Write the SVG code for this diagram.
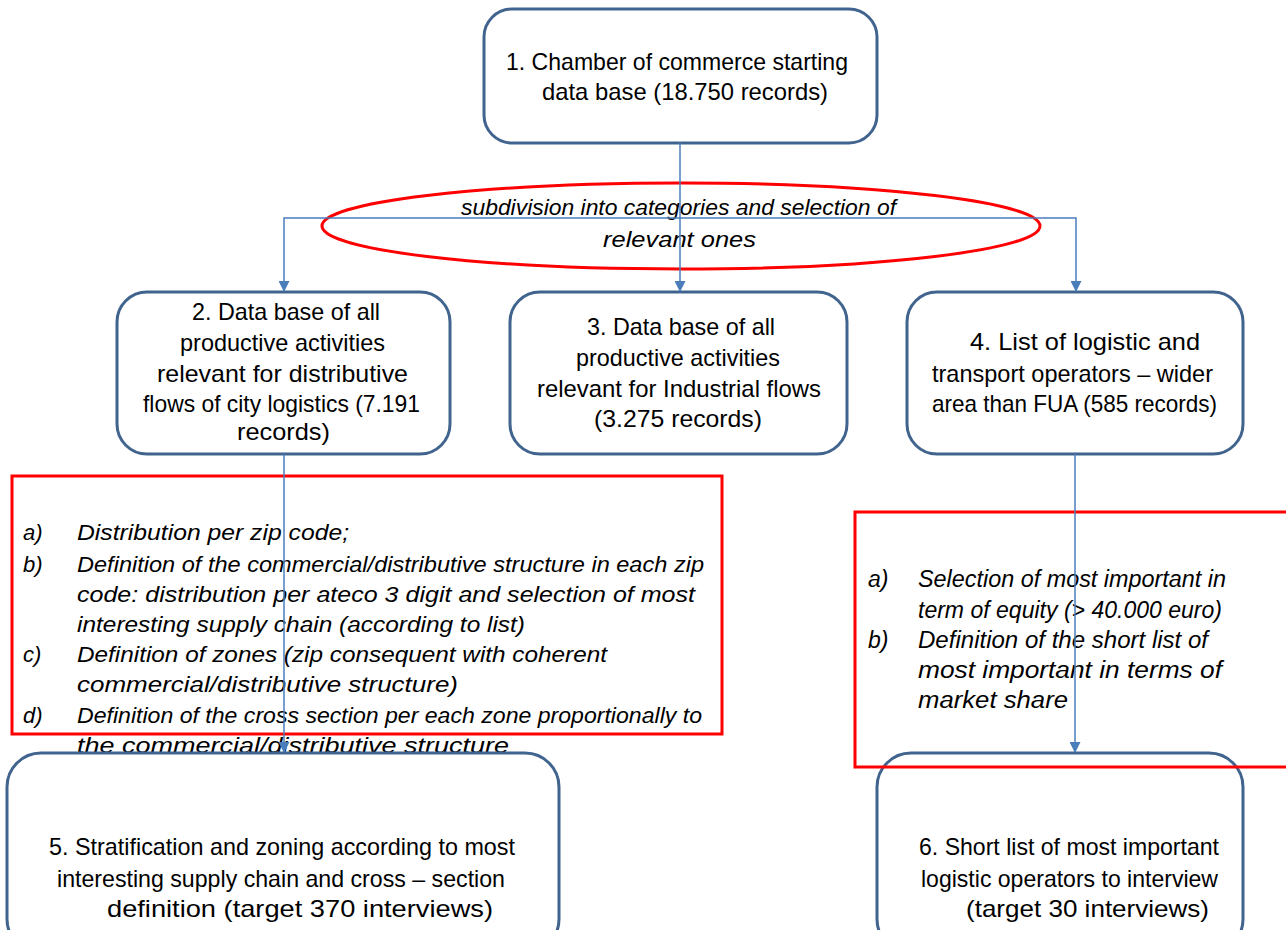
<svg xmlns="http://www.w3.org/2000/svg" width="1286" height="930" viewBox="0 0 1286 930">
<defs>
<marker id="arr" markerWidth="11" markerHeight="11" refX="10" refY="5.5" orient="auto" markerUnits="userSpaceOnUse">
<path d="M0,0 L11,5.5 L0,11 z" fill="#4a7ebb"/>
</marker>
<style>
.node{fill:#ffffff;stroke:#41648f;stroke-width:3}
.red{fill:none;stroke:#ff0000;stroke-width:3}
.t{font-family:"Liberation Sans",Arial,sans-serif;font-size:24px;fill:#000000}
.i{font-family:"Liberation Sans",Arial,sans-serif;font-size:22px;font-style:italic;fill:#000000}
.ir{font-family:"Liberation Sans",Arial,sans-serif;font-size:23px;font-style:italic;fill:#000000}
.ie{font-family:"Liberation Sans",Arial,sans-serif;font-size:22px;font-style:italic;fill:#000000}
.conn{fill:none;stroke:#4a7ebb;stroke-width:1.5}
</style>
</defs>
<rect width="1286" height="930" fill="#ffffff"/>

<g id="node1">
<rect class="node" x="484" y="9" width="393" height="134" rx="28"/>
<text class="t" x="506" y="70" textLength="342" lengthAdjust="spacingAndGlyphs">1. Chamber of commerce starting</text>
<text class="t" x="542" y="100" textLength="286" lengthAdjust="spacingAndGlyphs">data base (18.750 records)</text>
</g>

<g id="selection">
<ellipse class="red" cx="681" cy="226" rx="359" ry="43"/>
<text class="ie" x="461" y="215" textLength="435" lengthAdjust="spacingAndGlyphs">subdivision into categories and selection of</text>
<text class="ie" x="603" y="247" textLength="153" lengthAdjust="spacingAndGlyphs">relevant ones</text>
</g>

<g id="node2">
<rect class="node" x="117" y="292" width="333" height="162" rx="30"/>
<text class="t" x="192" y="320" textLength="188" lengthAdjust="spacingAndGlyphs">2. Data base of all</text>
<text class="t" x="180" y="351" textLength="205" lengthAdjust="spacingAndGlyphs">productive activities</text>
<text class="t" x="157" y="382" textLength="251" lengthAdjust="spacingAndGlyphs">relevant for distributive</text>
<text class="t" x="143" y="412" textLength="277" lengthAdjust="spacingAndGlyphs">flows of city logistics (7.191</text>
<text class="t" x="237" y="440" textLength="93" lengthAdjust="spacingAndGlyphs">records)</text>
</g>

<g id="node3">
<rect class="node" x="510" y="292" width="337" height="162" rx="30"/>
<text class="t" x="587" y="335" textLength="188" lengthAdjust="spacingAndGlyphs">3. Data base of all</text>
<text class="t" x="576" y="366" textLength="204" lengthAdjust="spacingAndGlyphs">productive activities</text>
<text class="t" x="537" y="397" textLength="284" lengthAdjust="spacingAndGlyphs">relevant for Industrial flows</text>
<text class="t" x="594" y="427" textLength="168" lengthAdjust="spacingAndGlyphs">(3.275 records)</text>
</g>

<g id="node4">
<rect class="node" x="907" y="292" width="336" height="162" rx="30"/>
<text class="t" x="970" y="350" textLength="230" lengthAdjust="spacingAndGlyphs">4. List of logistic and</text>
<text class="t" x="932" y="382" textLength="281" lengthAdjust="spacingAndGlyphs">transport operators – wider</text>
<text class="t" x="932" y="412" textLength="285" lengthAdjust="spacingAndGlyphs">area than FUA (585 records)</text>
</g>

<g id="steps-left">
<rect class="red" x="12" y="476" width="710" height="258"/>
<text class="i" x="23" y="540">a)</text>
<text class="i" x="77" y="540" textLength="272" lengthAdjust="spacingAndGlyphs">Distribution per zip code;</text>
<text class="i" x="23" y="572">b)</text>
<text class="i" x="77" y="572" textLength="627" lengthAdjust="spacingAndGlyphs">Definition of the commercial/distributive structure in each zip</text>
<text class="i" x="77" y="602" textLength="618" lengthAdjust="spacingAndGlyphs">code: distribution per ateco 3 digit and selection of most</text>
<text class="i" x="77" y="632" textLength="448" lengthAdjust="spacingAndGlyphs">interesting supply chain (according to list)</text>
<text class="i" x="23" y="662">c)</text>
<text class="i" x="77" y="662" textLength="530" lengthAdjust="spacingAndGlyphs">Definition of zones (zip consequent with coherent</text>
<text class="i" x="77" y="692" textLength="381" lengthAdjust="spacingAndGlyphs">commercial/distributive structure)</text>
<text class="i" x="23" y="723">d)</text>
<text class="i" x="77" y="723" textLength="625" lengthAdjust="spacingAndGlyphs">Definition of the cross section per each zone proportionally to</text>
<text class="i" x="77" y="753" textLength="432" lengthAdjust="spacingAndGlyphs">the commercial/distributive structure</text>
</g>

<g id="node5">
<rect class="node" x="7" y="753" width="552" height="200" rx="34"/>
<text class="t" x="49" y="855" textLength="466" lengthAdjust="spacingAndGlyphs">5. Stratification and zoning according to most</text>
<text class="t" x="57" y="887" textLength="448" lengthAdjust="spacingAndGlyphs">interesting supply chain and cross – section</text>
<text class="t" x="107" y="917" textLength="386" lengthAdjust="spacingAndGlyphs">definition (target 370 interviews)</text>
</g>

<g id="node6">
<rect class="node" x="877" y="753" width="366" height="200" rx="34"/>
<text class="t" x="919" y="855" textLength="300" lengthAdjust="spacingAndGlyphs">6. Short list of most important</text>
<text class="t" x="921" y="887" textLength="297" lengthAdjust="spacingAndGlyphs">logistic operators to interview</text>
<text class="t" x="966" y="917" textLength="243" lengthAdjust="spacingAndGlyphs">(target 30 interviews)</text>
</g>

<g id="steps-right">
<rect class="red" x="855" y="512" width="440" height="255"/>
<text class="ir" x="868" y="587">a)</text>
<text class="ir" x="918" y="587" textLength="308" lengthAdjust="spacingAndGlyphs">Selection of most important in</text>
<text class="ir" x="918" y="618" textLength="304" lengthAdjust="spacingAndGlyphs">term of equity (&gt; 40.000 euro)</text>
<text class="ir" x="868" y="648">b)</text>
<text class="ir" x="918" y="648" textLength="290" lengthAdjust="spacingAndGlyphs">Definition of the short list of</text>
<text class="ir" x="918" y="678" textLength="304" lengthAdjust="spacingAndGlyphs">most important in terms of</text>
<text class="ir" x="918" y="708" textLength="150" lengthAdjust="spacingAndGlyphs">market share</text>
</g>

<g id="connectors">
<line class="conn" x1="680" y1="143" x2="680" y2="291" marker-end="url(#arr)"/>
<polyline class="conn" points="680,218 284,218 284,291" marker-end="url(#arr)"/>
<polyline class="conn" points="680,218 1076,218 1076,291" marker-end="url(#arr)"/>
<line class="conn" x1="284" y1="454" x2="284" y2="752" marker-end="url(#arr)"/>
<line class="conn" x1="1075" y1="454" x2="1075" y2="752" marker-end="url(#arr)"/>
</g>
</svg>
